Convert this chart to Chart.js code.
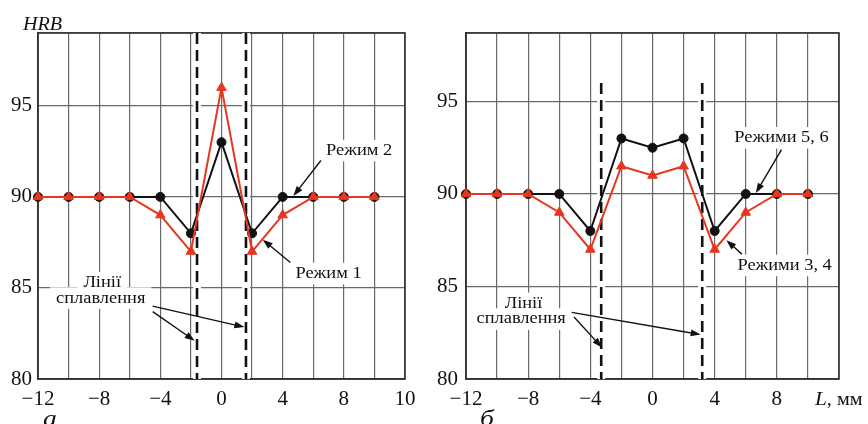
<!DOCTYPE html>
<html>
<head>
<meta charset="utf-8">
<script src="https://cdn.jsdelivr.net/npm/chart.js@4.4.0/dist/chart.umd.min.js"></script>
<style>
  body { margin: 0; background: #fff; }
  #wrap { position: relative; width: 868px; height: 424px; overflow: hidden; background: #fff; }
  canvas { position: absolute; top: 0; }
  #chartA { left: 0; }
  #chartB { left: 434px; }
</style>
</head>
<body>
<div id="wrap">
  <canvas id="chartA" width="434" height="424"></canvas>
  <canvas id="chartB" width="434" height="424"></canvas>
</div>
<script>
// distance from the weld centre, mm
const xPoints = [-12, -10, -8, -6, -4, -2, 0, 2, 4, 6, 8, 10];

// panel а
const modeA1 = [90, 90, 90, 90, 89, 87, 96, 87, 89, 90, 90, 90];   // Режим 1
const modeA2 = [90, 90, 90, 90, 90, 88, 93, 88, 90, 90, 90, 90];   // Режим 2
const fusionA = [-1.6, 1.6];

// panel б
const modeB34 = [90, 90, 90, 89, 87, 91.5, 91, 91.5, 87, 89, 90, 90];  // Режими 3, 4
const modeB56 = [90, 90, 90, 90, 88, 93, 92.5, 93, 88, 90, 90, 90];    // Режими 5, 6
const fusionB = [-3.3, 3.2];

const yTicks = [80, 85, 90, 95];
const xTicksA = [-12, -8, -4, 0, 4, 8, 12];
const xLabelsA = ['\u221212', '\u22128', '\u22124', '0', '4', '8', '10'];
const xTicksB = [-12, -8, -4, 0, 4, 8];
const xLabelsB = ['\u221212', '\u22128', '\u22124', '0', '4', '8'];

const RED = '#e6361f';
const BLACK = '#111';
const SERIF = '"Liberation Serif", "DejaVu Serif", serif';

function pts(ys) {
  return xPoints.map((x, i) => ({ x: x, y: ys[i] }));
}

function labelWidth(ctx, text, size, italic, sx) {
  ctx.save();
  ctx.font = (italic ? 'italic ' : '') + size + 'px ' + SERIF;
  const w = ctx.measureText(text).width * sx;
  ctx.restore();
  return w;
}

function drawLabel(ctx, text, px, py, size, italic) {
  const sx = 1.15;
  ctx.save();
  ctx.font = (italic ? 'italic ' : '') + size + 'px ' + SERIF;
  ctx.translate(px, py);
  ctx.scale(sx, 1);
  ctx.fillStyle = BLACK;
  ctx.textAlign = 'center';
  ctx.textBaseline = 'alphabetic';
  ctx.fillText(text, 0, 0);
  ctx.restore();
}

function drawArrow(ctx, x1, y1, x2, y2) {
  const a = Math.atan2(y2 - y1, x2 - x1);
  const len = 10, hw = 3.5;
  ctx.save();
  ctx.strokeStyle = BLACK;
  ctx.fillStyle = BLACK;
  ctx.lineWidth = 1.4;
  ctx.beginPath();
  ctx.moveTo(x1, y1);
  ctx.lineTo(x2 - Math.cos(a) * len * 0.8, y2 - Math.sin(a) * len * 0.8);
  ctx.stroke();
  ctx.beginPath();
  ctx.moveTo(x2, y2);
  ctx.lineTo(x2 - Math.cos(a) * len - Math.sin(a) * hw, y2 - Math.sin(a) * len + Math.cos(a) * hw);
  ctx.lineTo(x2 - Math.cos(a) * len + Math.sin(a) * hw, y2 - Math.sin(a) * len - Math.cos(a) * hw);
  ctx.closePath();
  ctx.fill();
  ctx.restore();
}

// fusion lines, texts and arrows, all placed in data units
const decoPlugin = {
  id: 'deco',
  beforeDatasetsDraw(chart, args, opts) {
    const ctx = chart.ctx;
    const xs = chart.scales.x, ys = chart.scales.y;
    const area = chart.chartArea;
    const fs = 16;

    ctx.save();
    ctx.strokeStyle = '#333';
    ctx.lineWidth = 1.6;
    ctx.strokeRect(area.left, area.top, area.right - area.left, area.bottom - area.top);
    ctx.restore();

    // white boxes first, so gridlines stop around the captions
    (opts.texts || []).forEach(t => {
      const px = xs.getPixelForValue(t.x), py = ys.getPixelForValue(t.y);
      const w = labelWidth(ctx, t.text, fs, false, 1.15);
      ctx.fillStyle = '#fff';
      ctx.fillRect(px - w / 2 - 6, py - fs * 0.95, w + 12, fs * 1.35);
    });
    (opts.texts || []).forEach(t => {
      drawLabel(ctx, t.text, xs.getPixelForValue(t.x), ys.getPixelForValue(t.y), fs, false);
    });

    const top = opts.fusionTop != null ? ys.getPixelForValue(opts.fusionTop) : area.top;
    (opts.fusion || []).forEach(v => {
      const px = xs.getPixelForValue(v);
      ctx.save();
      ctx.fillStyle = '#fff';
      ctx.fillRect(px - 4, top, 8, area.bottom - top);
      ctx.strokeStyle = BLACK;
      ctx.lineWidth = 2.6;
      ctx.setLineDash([11, 6]);
      ctx.beginPath();
      ctx.moveTo(px, top);
      ctx.lineTo(px, area.bottom);
      ctx.stroke();
      ctx.restore();
    });
  },
  afterDatasetsDraw(chart, args, opts) {
    const ctx = chart.ctx;
    const xs = chart.scales.x, ys = chart.scales.y;
    const area = chart.chartArea;
    (opts.arrows || []).forEach(a => {
      drawArrow(ctx, xs.getPixelForValue(a[0]), ys.getPixelForValue(a[1]),
        xs.getPixelForValue(a[2]), ys.getPixelForValue(a[3]));
    });
    ctx.save();
    ctx.fillStyle = BLACK;
    ctx.textBaseline = 'alphabetic';
    if (opts.yTitle) {
      ctx.save();
      ctx.translate(area.left - 15, area.top - 3);
      ctx.scale(1.12, 1);
      ctx.font = 'italic 18px ' + SERIF;
      ctx.fillText(opts.yTitle, 0, 0);
      ctx.restore();
    }
    if (opts.xTitle) {
      ctx.save();
      ctx.translate(area.right - 24, area.bottom + 26);
      ctx.scale(1.12, 1);
      ctx.font = 'italic 19px ' + SERIF;
      ctx.fillText('L', 0, 0);
      const w = ctx.measureText('L').width;
      ctx.font = '18px ' + SERIF;
      ctx.fillText(', мм', w, 0);
      ctx.restore();
    }
    ctx.restore();
    drawLabel(ctx, opts.panel, opts.panelX, 426, 24, true);
  }
};

function makeChart(id, red, black, yMax, xTicks, xLabels, yWidth, yPad, deco) {
  return new Chart(document.getElementById(id), {
    type: 'line',
    data: {
      datasets: [
        {
          data: pts(red), borderColor: RED, backgroundColor: RED, borderWidth: 2,
          pointStyle: 'triangle', pointRadius: 5.5, pointBorderWidth: 1, clip: false
        },
        {
          data: pts(black), borderColor: BLACK, backgroundColor: BLACK, borderWidth: 2,
          pointStyle: 'circle', pointRadius: 4.5, pointBorderWidth: 1, clip: false
        }
      ]
    },
    options: {
      responsive: false,
      animation: false,
      devicePixelRatio: 1,
      layout: { padding: { top: 33, right: 29, left: 0, bottom: 0 } },
      plugins: { legend: { display: false }, tooltip: { enabled: false }, deco: deco },
      scales: {
        x: {
          type: 'linear', min: -12, max: 12,
          afterFit: s => { s.height = 45; },
          grid: { color: '#6a6a6a', lineWidth: 1.2, drawTicks: false },
          border: { color: '#333', width: 1.6 },
          ticks: {
            stepSize: 2, autoSkip: false, maxRotation: 0, padding: 8,
            color: BLACK, font: { family: SERIF, size: 21 },
            callback: v => { const i = xTicks.indexOf(v); return i >= 0 ? xLabels[i] : ''; }
          }
        },
        y: {
          min: 80, max: yMax,
          afterFit: s => { s.width = yWidth; },
          grid: { color: '#6a6a6a', lineWidth: 1.2, drawTicks: false },
          border: { color: '#333', width: 1.6 },
          ticks: {
            stepSize: 5, padding: yPad,
            color: BLACK, font: { family: SERIF, size: 21 },
            callback: v => yTicks.includes(v) ? String(v) : ''
          }
        }
      }
    },
    plugins: [decoPlugin]
  });
}

makeChart('chartA', modeA1, modeA2, 99, xTicksA, xLabelsA, 38, 6, {
  fusion: fusionA,
  yTitle: 'HRB',
  panel: 'а', panelX: 50,
  texts: [
    { text: 'Режим 2', x: 9.0, y: 92.3 },
    { text: 'Режим 1', x: 7.0, y: 85.55 },
    { text: 'Лінії', x: -7.8, y: 85.05 },
    { text: 'сплавлення', x: -7.9, y: 84.2 }
  ],
  arrows: [
    [6.5, 92.0, 4.7, 90.05],
    [4.5, 86.4, 2.7, 87.65],
    [-4.5, 84.0, 1.5, 82.85],
    [-4.5, 83.7, -1.75, 82.1]
  ]
});

makeChart('chartB', modeB34, modeB56, 98.7, xTicksB, xLabelsB, 32, 8, {
  fusion: fusionB, fusionTop: 96,
  xTitle: true,
  panel: 'б', panelX: 53,
  texts: [
    { text: 'Режими 5, 6', x: 8.3, y: 92.8 },
    { text: 'Режими 3, 4', x: 8.5, y: 85.9 },
    { text: 'Лінії', x: -8.3, y: 83.85 },
    { text: 'сплавлення', x: -8.45, y: 83.0 }
  ],
  arrows: [
    [8.3, 92.4, 6.65, 90.05],
    [5.75, 86.75, 4.75, 87.5],
    [-5.2, 83.6, 3.1, 82.4],
    [-5.05, 83.35, -3.25, 81.7]
  ]
});
</script>
</body>
</html>
